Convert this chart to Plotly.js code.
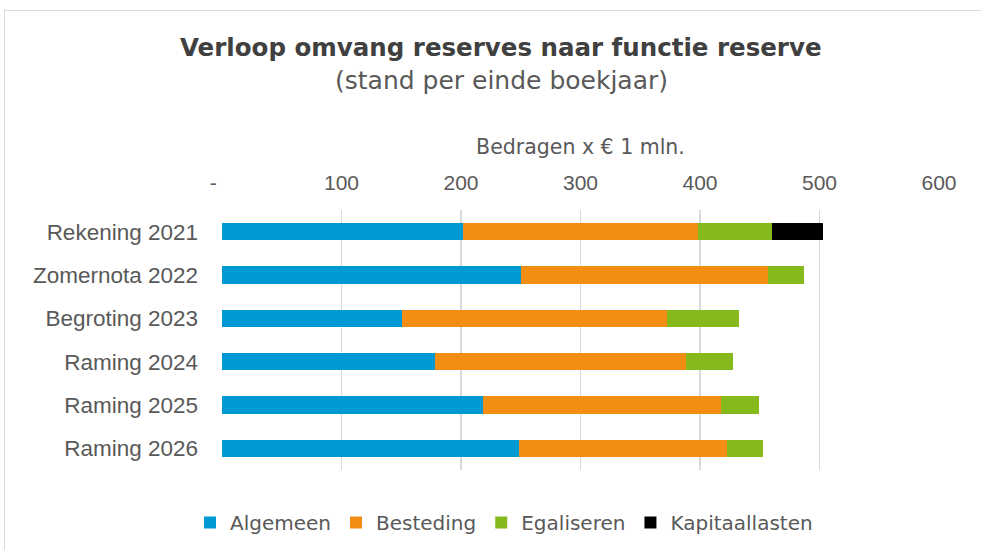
<!DOCTYPE html>
<html>
<head>
<meta charset="utf-8">
<script src="https://cdn.plot.ly/plotly-3.0.1.min.js"></script>
<style>
  html, body { margin:0; padding:0; background:#fff; }
  #wrap { position:relative; width:981px; height:550px; overflow:hidden; }
  #frame { position:absolute; left:4px; top:10px; width:1000px; height:600px; border:1px solid #d9d9d9; box-sizing:border-box; pointer-events:none; }
  #chart { position:absolute; left:0; top:0; width:981px; height:550px; }
</style>
</head>
<body>
<div id="wrap">
  <div id="chart"></div>
  <div id="frame"></div>
</div>
<script>
const categories = ["Rekening 2021", "Zomernota 2022", "Begroting 2023", "Raming 2024", "Raming 2025", "Raming 2026"];
const seriesNames = ["Algemeen", "Besteding", "Egaliseren", "Kapitaallasten"];
const algemeen = [202, 250, 151, 178, 218, 248.5];
const besteding = [196, 207, 221.5, 210, 199.5, 174.5];
const egaliseren = [62, 30, 60, 40, 32, 30];
const kapitaallasten = [43, 0, 0, 0, 0, 0];
const tickValues = [0, 100, 200, 300, 400, 500, 600];
const tickLabels = ["-\u00a0\u00a0\u00a0", "100", "200", "300", "400", "500", "600"];
const colors = ["#0099D4", "#F28E13", "#86B91C", "#000000"];

const values = [algemeen, besteding, egaliseren, kapitaallasten];
const traces = values.map((v, i) => ({
  type: "bar",
  orientation: "h",
  name: seriesNames[i],
  y: categories,
  x: v,
  marker: { color: colors[i], line: { width: 0 } },
  hoverinfo: "x+name"
}));

const textColor = "#595959";
const arial = "Liberation Sans, Arial, sans-serif";
const wide = "DejaVu Sans, Verdana, sans-serif";
const layout = {
  width: 981, height: 550,
  margin: { l: 222, r: 42, t: 210, b: 80 },
  paper_bgcolor: "#ffffff",
  plot_bgcolor: "#ffffff",
  barmode: "stack",
  bargap: 0.6,
  font: { family: arial, color: textColor, size: 20 },
  xaxis: {
    side: "top",
    range: [0, 600],
    tickvals: tickValues,
    ticktext: tickLabels,
    showgrid: true,
    gridcolor: "#d9d9d9",
    gridwidth: 1.5,
    zeroline: false,
    showline: false,
    ticks: "",
    ticklabelstandoff: 15,
    tickfont: { family: arial, size: 21, color: textColor },
    title: { text: "Bedragen x € 1 mln.", font: { family: wide, size: 20.5, color: textColor }, standoff: 10 },
    fixedrange: true
  },
  yaxis: {
    type: "category",
    autorange: "reversed",
    showgrid: false,
    zeroline: false,
    showline: false,
    ticks: "",
    ticklabelstandoff: 23,
    tickfont: { family: arial, size: 22.5, color: textColor },
    fixedrange: true
  },
  showlegend: true,
  legend: {
    orientation: "h",
    xref: "container", yref: "container",
    x: 504 / 981, xanchor: "center",
    y: 0.05, yanchor: "middle",
    font: { family: wide, size: 20, color: textColor },
    traceorder: "normal",
    itemwidth: 30
  },
  annotations: [
    { xref: "paper", yref: "paper", x: (501 - 222) / 717, y: (470 - 47) / 260, xanchor: "center", yanchor: "middle",
      text: "<b>Verloop omvang reserves naar functie reserve</b>", showarrow: false,
      font: { family: wide, size: 24.5, color: "#404040" } },
    { xref: "paper", yref: "paper", x: (501 - 222) / 717, y: (470 - 80) / 260, xanchor: "center", yanchor: "middle",
      text: "(stand per einde boekjaar)", showarrow: false, font: { family: wide, size: 25, color: textColor } }
  ]
};

Plotly.newPlot("chart", traces, layout, { displayModeBar: false, staticPlot: true });
</script>
</body>
</html>
